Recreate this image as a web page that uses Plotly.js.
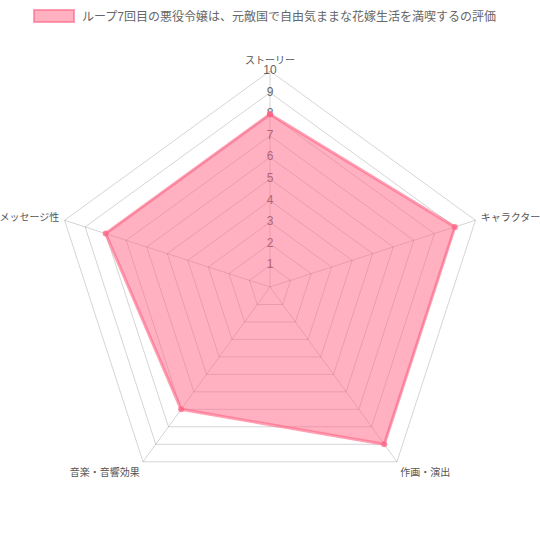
<!DOCTYPE html>
<html>
<head>
<meta charset="utf-8">
<script src="https://cdn.plot.ly/plotly-3.0.1.min.js"></script>
<style>
  html, body { margin: 0; padding: 0; background: #fff; }
  #chart { width: 540px; height: 540px; }
</style>
</head>
<body>
<div id="chart"></div>
<script>
// Review scores for each aspect of the anime
const seriesName = 'ループ7回目の悪役令嬢は、元敵国で自由気ままな花嫁生活を満喫するの評価';
const categories = ['ストーリー', 'キャラクター', '作画・演出', '音楽・音響効果', 'メッセージ性'];
const scores = [8, 9, 9, 7, 8];
const tickValues = [1, 2, 3, 4, 5, 6, 7, 8, 9, 10];

const FONT = '"Liberation Sans", Arial, "Noto Sans CJK JP", sans-serif';
const GRID = 'rgba(0,0,0,0.17)';

// Close the polygon by repeating the first point
const theta = categories.concat([categories[0]]);
const r = scores.concat([scores[0]]);

const traces = [
  // Scale numbers drawn along the first spoke, beneath the filled area
  {
    type: 'scatterpolar',
    mode: 'text',
    theta: tickValues.map(() => categories[0]),
    r: tickValues,
    text: tickValues.map(String),
    textposition: 'middle center',
    textfont: { family: FONT, size: 12, color: '#666' },
    showlegend: false,
    hoverinfo: 'skip'
  },
  {
    type: 'scatterpolar',
    name: seriesName,
    mode: 'lines+markers',
    theta: theta,
    r: r,
    fill: 'toself',
    fillcolor: 'rgba(255,99,132,0.5)',
    line: { color: 'rgba(255,99,132,0.6)', width: 3 },
    marker: { color: 'rgba(255,99,132,0.75)', size: 6 },
    showlegend: false
  }
];

const layout = {
  width: 540,
  height: 540,
  margin: { l: 0, r: 0, t: 0, b: 0 },
  paper_bgcolor: '#fff',
  font: { family: FONT, color: '#666' },
  showlegend: false,
  // Legend key: a filled swatch followed by the series name
  shapes: [{
    type: 'rect',
    xref: 'paper', yref: 'paper',
    x0: 34 / 540, x1: 74 / 540,
    y0: 1 - 22 / 540, y1: 1 - 10 / 540,
    fillcolor: 'rgba(255,99,132,0.5)',
    line: { color: 'rgba(255,99,132,0.6)', width: 2 }
  }],
  annotations: [{
    xref: 'paper', yref: 'paper',
    x: 80 / 540, y: 1 - 16 / 540,
    xanchor: 'left', yanchor: 'middle',
    text: seriesName,
    showarrow: false,
    font: { family: FONT, size: 12, color: '#666' }
  }],
  polar: {
    domain: { x: [0.1, 0.9], y: [0.0685, 0.8685] },
    gridshape: 'linear',
    bgcolor: 'rgba(0,0,0,0)',
    radialaxis: {
      range: [0, 10],
      tickvals: tickValues,
      showticklabels: false,
      ticks: '',
      showline: false,
      gridcolor: GRID,
      gridwidth: 1,
      angle: 90
    },
    angularaxis: {
      rotation: 90,
      direction: 'clockwise',
      tickfont: { family: FONT, size: 10, color: '#555' },
      ticks: 'outside',
      ticklen: 3,
      tickcolor: 'rgba(0,0,0,0)',
      showline: true,
      linecolor: GRID,
      linewidth: 1,
      gridcolor: GRID,
      gridwidth: 1
    }
  }
};

Plotly.newPlot('chart', traces, layout, { displayModeBar: false, responsive: false });
</script>
</body>
</html>
